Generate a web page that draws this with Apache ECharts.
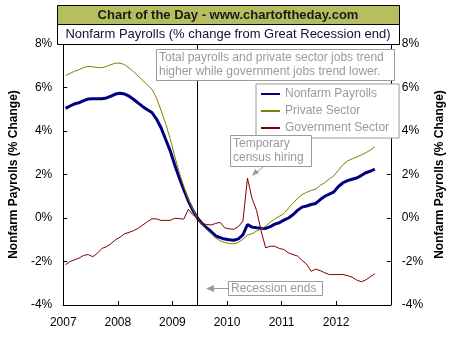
<!DOCTYPE html>
<html>
<head>
<meta charset="utf-8">
<script src="https://cdn.jsdelivr.net/npm/echarts@6/dist/echarts.min.js"></script>
<style>
  html, body { margin: 0; padding: 0; background: #ffffff; }
  #chart { width: 454px; height: 340px; }
</style>
</head>
<body>
<div id="chart"></div>
<script>
// Monthly payroll change (%) relative to June 2009, Jan 2007 – Sep 2012
const startYear = 2007;
const seriesNames = ['Nonfarm Payrolls', 'Private Sector', 'Government Sector'];
const yTicks = [-4, -2, 0, 2, 4, 6, 8];
const xYears = [2007, 2008, 2009, 2010, 2011, 2012];
const recessionEnd = { year: 2009, month: 6 };

const nonfarm = [
  5.04, 5.15, 5.25, 5.30, 5.40, 5.47, 5.48, 5.48, 5.48, 5.52, 5.60, 5.70,
  5.74, 5.70, 5.60, 5.45, 5.28, 5.12, 4.98, 4.85, 4.55, 4.15, 3.62, 3.10,
  2.45, 1.85, 1.30, 0.78, 0.35, 0.00, -0.25, -0.45, -0.62, -0.82, -0.90, -0.97,
  -1.00, -1.02, -0.96, -0.78, -0.30, -0.42, -0.45, -0.47, -0.48, -0.40, -0.28, -0.22,
  -0.10, 0.00, 0.15, 0.35, 0.50, 0.55, 0.62, 0.67, 0.85, 1.00, 1.10, 1.20,
  1.45, 1.62, 1.72, 1.78, 1.84, 1.95, 2.08, 2.15, 2.25
];
const privateSector = [
  6.55, 6.65, 6.75, 6.82, 6.92, 6.97, 6.95, 6.92, 6.91, 6.97, 7.05, 7.12,
  7.12, 7.05, 6.90, 6.72, 6.52, 6.32, 6.12, 5.92, 5.52, 4.95, 4.35, 3.65,
  2.85, 2.10, 1.45, 0.88, 0.40, 0.00, -0.30, -0.52, -0.72, -0.92, -1.05, -1.12,
  -1.17, -1.19, -1.12, -0.98, -0.78, -0.72, -0.60, -0.50, -0.38, -0.18, -0.05, 0.08,
  0.20, 0.45, 0.68, 0.90, 1.08, 1.18, 1.27, 1.33, 1.50, 1.63, 1.80, 1.94,
  2.20, 2.45, 2.62, 2.72, 2.80, 2.90, 3.00, 3.12, 3.28
];
const government = [
  -2.15, -2.00, -1.92, -1.84, -1.72, -1.68, -1.78, -1.62, -1.40, -1.32, -1.18, -1.00,
  -0.88, -0.72, -0.66, -0.58, -0.47, -0.32, -0.17, -0.04, -0.04, -0.11, -0.11, -0.11,
  -0.01, -0.03, -0.05, 0.40, 0.15, 0.00, -0.25, -0.30, -0.32, -0.25, -0.20, -0.45,
  -0.50, -0.52, -0.40, -0.15, 1.83, 0.90, 0.35, -0.60, -1.37, -1.30, -1.30, -1.40,
  -1.45, -1.60, -1.68, -1.75, -1.95, -2.12, -2.45, -2.35, -2.42, -2.52, -2.60, -2.60,
  -2.60, -2.60, -2.65, -2.72, -2.85, -2.93, -2.85, -2.70, -2.57
];

// Each month is placed at its middle, in decimal years
const monthPos = (i) => startYear + (i + 0.5) / 12;
const toPairs = (arr) => arr.map((v, i) => [monthPos(i), v]);
const recessionX = recessionEnd.year + (recessionEnd.month - 0.5) / 12;

const FONT = '"Liberation Sans", Arial, sans-serif';
const GREY = '#9a9a9a';

const chart = echarts.init(document.getElementById('chart'), null, { renderer: 'canvas' });

const yAxisCommon = {
  type: 'value',
  min: yTicks[0],
  max: yTicks[yTicks.length - 1],
  interval: 2,
  name: 'Nonfarm Payrolls (% Change)',
  nameLocation: 'middle',
  nameTextStyle: { fontFamily: FONT, fontSize: 12, fontWeight: 'bold', color: '#000' },
  axisLine: { show: true, lineStyle: { color: '#000', width: 1 } },
  axisTick: { show: true, inside: true, length: 4, lineStyle: { color: '#000' } },
  axisLabel: { formatter: '{value}%', fontFamily: FONT, fontSize: 12, color: '#000', margin: 11 },
  splitLine: { show: false }
};

chart.setOption({
  animation: false,
  backgroundColor: '#ffffff',
  grid: { left: 57, right: 55, top: 44, bottom: 35, containLabel: false },
  xAxis: {
    type: 'value',
    min: xYears[0],
    max: xYears[xYears.length - 1] + 1,
    interval: 1,
    axisLine: { show: true, onZero: false, lineStyle: { color: '#000', width: 1 } },
    axisTick: { show: true, inside: true, length: 4, lineStyle: { color: '#000' } },
    axisLabel: {
      fontFamily: FONT, fontSize: 12, color: '#000', margin: 12,
      formatter: (v) => (xYears.indexOf(v) >= 0 ? String(v) : '')
    },
    splitLine: { show: false }
  },
  yAxis: [
    Object.assign({}, yAxisCommon, { position: 'left', nameGap: 33, nameRotate: 90 }),
    Object.assign({}, yAxisCommon, { position: 'right', nameGap: 32, nameRotate: 90 })
  ],
  legend: {
    orient: 'vertical',
    left: 256,
    top: 84,
    width: 137,
    padding: [4, 10, 4, 5],
    itemGap: 5,
    itemWidth: 19,
    itemHeight: 2,
    icon: 'rect',
    backgroundColor: '#ffffff',
    borderColor: GREY,
    borderWidth: 1,
    textStyle: { fontFamily: FONT, fontSize: 12, color: GREY, lineHeight: 12, padding: [0, 0, 0, 0] },
    data: seriesNames
  },
  series: [
    {
      name: seriesNames[0], type: 'line', data: toPairs(nonfarm),
      showSymbol: false, lineStyle: { color: '#000080', width: 3 }, itemStyle: { color: '#000080' },
      z: 3,
      markLine: {
        silent: true, symbol: 'none', animation: false,
        label: { show: false },
        lineStyle: { color: '#000', width: 1, type: 'solid' },
        data: [{ xAxis: recessionX }]
      }
    },
    {
      name: seriesNames[1], type: 'line', data: toPairs(privateSector),
      showSymbol: false, lineStyle: { color: '#808000', width: 1 }, itemStyle: { color: '#808000' },
      z: 4
    },
    {
      name: seriesNames[2], type: 'line', data: toPairs(government),
      showSymbol: false, lineStyle: { color: '#800000', width: 1 }, itemStyle: { color: '#800000' },
      z: 5
    }
  ],
  graphic: [
    // header bars
    { type: 'rect', shape: { x: 57.5, y: 5.5, width: 342, height: 19 },
      style: { fill: '#b6bf5f', stroke: '#000', lineWidth: 1 }, z: 10 },
    { type: 'text', x: 228, y: 15, z: 11,
      style: { text: 'Chart of the Day - www.chartoftheday.com', fill: '#1a1a1a',
        font: 'bold 13px ' + FONT, textAlign: 'center', textVerticalAlign: 'middle' } },
    { type: 'rect', shape: { x: 57.5, y: 24.5, width: 342, height: 20 },
      style: { fill: '#ffffff', stroke: '#000', lineWidth: 1 }, z: 10 },
    { type: 'text', x: 228, y: 34.5, z: 11,
      style: { text: 'Nonfarm Payrolls (% change from Great Recession end)', fill: '#10103a',
        font: '13px ' + FONT, textAlign: 'center', textVerticalAlign: 'middle' } },

    // trend note
    { type: 'rect', shape: { x: 156.5, y: 49.5, width: 238, height: 31 },
      style: { fill: '#ffffff', stroke: GREY, lineWidth: 1 }, z: 10 },
    { type: 'text', x: 159, y: 58, z: 11,
      style: { text: 'Total payrolls and private sector jobs trend', fill: GREY,
        font: '12px ' + FONT, textAlign: 'left', textVerticalAlign: 'middle' } },
    { type: 'text', x: 159, y: 72, z: 11,
      style: { text: 'higher while government jobs trend lower.', fill: GREY,
        font: '12px ' + FONT, textAlign: 'left', textVerticalAlign: 'middle' } },

    // census note with arrow
    { type: 'rect', shape: { x: 230.5, y: 135.5, width: 81, height: 31 },
      style: { fill: '#ffffff', stroke: GREY, lineWidth: 1 }, z: 10 },
    { type: 'text', x: 233, y: 144, z: 11,
      style: { text: 'Temporary', fill: GREY, font: '12px ' + FONT, textAlign: 'left', textVerticalAlign: 'middle' } },
    { type: 'text', x: 233, y: 158, z: 11,
      style: { text: 'census hiring', fill: GREY, font: '12px ' + FONT, textAlign: 'left', textVerticalAlign: 'middle' } },
    { type: 'line', shape: { x1: 263, y1: 167, x2: 257, y2: 172 },
      style: { stroke: GREY, lineWidth: 1 }, z: 10 },
    { type: 'polygon', shape: { points: [[252, 176], [255, 169], [259, 173]] },
      style: { fill: GREY }, z: 10 },

    // recession-end note with arrow
    { type: 'rect', shape: { x: 228.5, y: 281.5, width: 94, height: 14 },
      style: { fill: '#ffffff', stroke: GREY, lineWidth: 1 }, z: 10 },
    { type: 'text', x: 231, y: 289, z: 11,
      style: { text: 'Recession ends', fill: GREY, font: '12px ' + FONT, textAlign: 'left', textVerticalAlign: 'middle' } },
    { type: 'line', shape: { x1: 214, y1: 288.5, x2: 228, y2: 288.5 },
      style: { stroke: GREY, lineWidth: 1 }, z: 10 },
    { type: 'polygon', shape: { points: [[206, 288.5], [214, 285], [214, 292]] },
      style: { fill: GREY }, z: 10 }
  ]
});
</script>
</body>
</html>
